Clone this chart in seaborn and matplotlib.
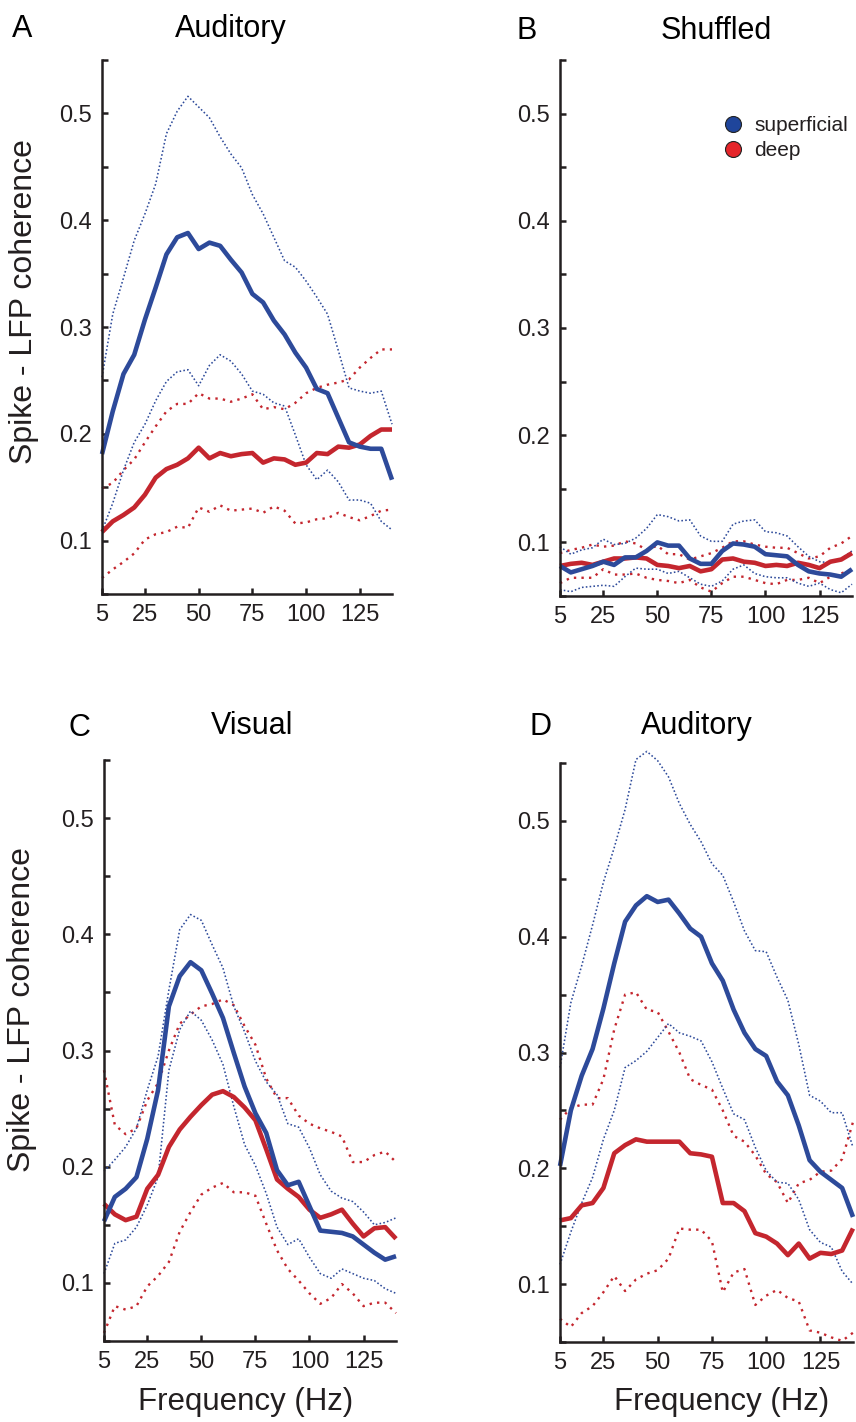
import numpy as np
import pandas as pd
import matplotlib
matplotlib.use("Agg")
import matplotlib.pyplot as plt
import seaborn as sns
from matplotlib.lines import Line2D

# ---------------- data ----------------
freq = [5, 10, 15, 20, 25, 30, 35, 40, 45, 50, 55, 60, 65, 70,
        75, 80, 85, 90, 95, 100, 105, 110, 115, 120, 125, 130, 135, 140]

# Panel A - Auditory
A_sup_mean = [0.181, 0.221, 0.256, 0.274, 0.307, 0.337, 0.368, 0.384, 0.388, 0.373, 0.379, 0.376, 0.363, 0.351,
              0.331, 0.323, 0.306, 0.293, 0.276, 0.262, 0.242, 0.238, 0.215, 0.192, 0.188, 0.186, 0.186, 0.157]
A_sup_hi = [0.253, 0.312, 0.346, 0.381, 0.406, 0.434, 0.481, 0.502, 0.516, 0.506, 0.496, 0.478, 0.462, 0.449,
            0.424, 0.406, 0.384, 0.362, 0.356, 0.343, 0.328, 0.312, 0.278, 0.243, 0.240, 0.238, 0.240, 0.209]
A_sup_lo = [0.109, 0.135, 0.166, 0.192, 0.209, 0.231, 0.249, 0.258, 0.260, 0.245, 0.264, 0.274, 0.268, 0.256,
            0.240, 0.237, 0.229, 0.226, 0.199, 0.171, 0.157, 0.166, 0.155, 0.138, 0.138, 0.135, 0.118, 0.110]
A_deep_mean = [0.108, 0.118, 0.124, 0.131, 0.143, 0.159, 0.167, 0.171, 0.177, 0.187, 0.177, 0.182, 0.179, 0.181,
               0.182, 0.173, 0.177, 0.176, 0.171, 0.173, 0.182, 0.181, 0.188, 0.187, 0.190, 0.198, 0.204, 0.204]
A_deep_hi = [0.149, 0.154, 0.166, 0.176, 0.192, 0.207, 0.221, 0.228, 0.228, 0.238, 0.233, 0.233, 0.230, 0.233,
             0.237, 0.223, 0.225, 0.223, 0.229, 0.238, 0.243, 0.246, 0.248, 0.251, 0.262, 0.271, 0.279, 0.279]
A_deep_lo = [0.065, 0.073, 0.080, 0.088, 0.101, 0.106, 0.108, 0.113, 0.112, 0.131, 0.127, 0.133, 0.128, 0.129,
             0.130, 0.126, 0.132, 0.128, 0.116, 0.117, 0.120, 0.121, 0.126, 0.122, 0.119, 0.123, 0.128, 0.129]

# Panel B - Shuffled
B_sup_mean = [0.078, 0.072, 0.075, 0.078, 0.082, 0.079, 0.086, 0.086, 0.092, 0.100, 0.097, 0.097, 0.085, 0.080,
              0.080, 0.092, 0.099, 0.098, 0.096, 0.089, 0.088, 0.087, 0.079, 0.073, 0.071, 0.070, 0.068, 0.075]
B_sup_hi = [0.096, 0.089, 0.093, 0.095, 0.103, 0.098, 0.099, 0.104, 0.113, 0.126, 0.124, 0.120, 0.121, 0.106,
            0.101, 0.101, 0.117, 0.120, 0.121, 0.110, 0.109, 0.106, 0.096, 0.087, 0.082, 0.081, 0.085, 0.092]
B_sup_lo = [0.056, 0.054, 0.058, 0.059, 0.060, 0.059, 0.068, 0.076, 0.075, 0.075, 0.071, 0.073, 0.067, 0.061,
            0.059, 0.064, 0.075, 0.079, 0.071, 0.068, 0.067, 0.067, 0.062, 0.059, 0.062, 0.056, 0.053, 0.061]
B_deep_mean = [0.078, 0.080, 0.081, 0.079, 0.082, 0.085, 0.085, 0.086, 0.085, 0.079, 0.078, 0.076, 0.078, 0.073,
               0.075, 0.084, 0.085, 0.082, 0.081, 0.078, 0.079, 0.078, 0.081, 0.079, 0.076, 0.082, 0.084, 0.090]
B_deep_hi = [0.090, 0.093, 0.095, 0.098, 0.096, 0.097, 0.101, 0.099, 0.093, 0.097, 0.089, 0.089, 0.084, 0.087,
             0.090, 0.095, 0.101, 0.101, 0.098, 0.096, 0.095, 0.095, 0.090, 0.085, 0.087, 0.095, 0.099, 0.106]
B_deep_lo = [0.062, 0.067, 0.067, 0.067, 0.075, 0.070, 0.070, 0.071, 0.067, 0.065, 0.064, 0.062, 0.065, 0.058,
             0.054, 0.062, 0.068, 0.068, 0.065, 0.062, 0.061, 0.065, 0.065, 0.067, 0.062, 0.068, 0.071, 0.075]

# Panel C - Visual
C_sup_mean = [0.153, 0.174, 0.181, 0.191, 0.224, 0.266, 0.338, 0.364, 0.376, 0.369, 0.349, 0.328, 0.298, 0.269,
              0.246, 0.229, 0.197, 0.184, 0.187, 0.166, 0.145, 0.144, 0.143, 0.140, 0.133, 0.126, 0.120, 0.123]
C_sup_hi = [0.196, 0.206, 0.217, 0.233, 0.266, 0.295, 0.352, 0.404, 0.417, 0.412, 0.391, 0.371, 0.338, 0.316,
            0.291, 0.273, 0.262, 0.237, 0.234, 0.216, 0.193, 0.179, 0.173, 0.170, 0.161, 0.150, 0.152, 0.156]
C_sup_lo = [0.108, 0.134, 0.137, 0.148, 0.167, 0.191, 0.283, 0.318, 0.334, 0.326, 0.309, 0.288, 0.252, 0.219,
            0.201, 0.177, 0.148, 0.133, 0.138, 0.122, 0.108, 0.104, 0.112, 0.108, 0.104, 0.102, 0.095, 0.091]
C_deep_mean = [0.168, 0.159, 0.154, 0.157, 0.181, 0.193, 0.217, 0.232, 0.243, 0.253, 0.262, 0.265, 0.260, 0.251,
               0.240, 0.215, 0.189, 0.181, 0.174, 0.163, 0.156, 0.159, 0.163, 0.151, 0.140, 0.147, 0.148, 0.138]
C_deep_hi = [0.283, 0.236, 0.228, 0.233, 0.257, 0.272, 0.300, 0.323, 0.331, 0.338, 0.340, 0.344, 0.339, 0.321,
             0.305, 0.276, 0.259, 0.259, 0.244, 0.237, 0.233, 0.230, 0.226, 0.204, 0.204, 0.210, 0.213, 0.204]
C_deep_lo = [0.057, 0.080, 0.077, 0.080, 0.097, 0.106, 0.118, 0.144, 0.161, 0.176, 0.182, 0.186, 0.178, 0.178,
             0.175, 0.151, 0.128, 0.112, 0.102, 0.091, 0.082, 0.087, 0.099, 0.091, 0.080, 0.083, 0.083, 0.074]

# Panel D - Auditory
D_sup_mean = [0.202, 0.250, 0.280, 0.303, 0.338, 0.377, 0.413, 0.427, 0.435, 0.430, 0.432, 0.420, 0.407, 0.400,
              0.377, 0.362, 0.337, 0.317, 0.303, 0.297, 0.275, 0.263, 0.237, 0.207, 0.197, 0.190, 0.183, 0.158]
D_sup_hi = [0.287, 0.343, 0.375, 0.410, 0.447, 0.477, 0.510, 0.553, 0.560, 0.552, 0.538, 0.515, 0.497, 0.482,
            0.463, 0.453, 0.430, 0.405, 0.388, 0.387, 0.365, 0.345, 0.307, 0.263, 0.258, 0.248, 0.248, 0.218]
D_sup_lo = [0.117, 0.145, 0.170, 0.192, 0.225, 0.250, 0.287, 0.293, 0.301, 0.313, 0.325, 0.317, 0.314, 0.310,
            0.292, 0.269, 0.247, 0.242, 0.218, 0.198, 0.188, 0.187, 0.173, 0.147, 0.136, 0.132, 0.111, 0.100]
D_deep_mean = [0.155, 0.157, 0.168, 0.170, 0.183, 0.213, 0.220, 0.225, 0.223, 0.223, 0.223, 0.223, 0.213, 0.212,
               0.210, 0.170, 0.170, 0.163, 0.144, 0.141, 0.135, 0.125, 0.135, 0.122, 0.127, 0.126, 0.129, 0.148]
D_deep_hi = [0.242, 0.252, 0.255, 0.255, 0.277, 0.320, 0.350, 0.352, 0.337, 0.335, 0.318, 0.300, 0.277, 0.272,
             0.268, 0.250, 0.228, 0.223, 0.211, 0.195, 0.188, 0.170, 0.187, 0.190, 0.197, 0.198, 0.208, 0.240]
D_deep_lo = [0.070, 0.063, 0.075, 0.081, 0.093, 0.107, 0.094, 0.104, 0.109, 0.112, 0.122, 0.148, 0.147, 0.147,
             0.137, 0.093, 0.110, 0.113, 0.082, 0.090, 0.095, 0.088, 0.085, 0.060, 0.058, 0.054, 0.051, 0.058]

panel_titles = ["Auditory", "Shuffled", "Visual", "Auditory"]
panel_letters = ["A", "B", "C", "D"]
x_ticks = [5, 25, 50, 75, 100, 125]
y_ticks = [0.05, 0.10, 0.15, 0.20, 0.25, 0.30, 0.35, 0.40, 0.45, 0.50, 0.55]
y_ticklabels = ["", "0.1", "", "0.2", "", "0.3", "", "0.4", "", "0.5", ""]
legend_labels = ["superficial", "deep"]
y_label = "Spike - LFP coherence"
x_label = "Frequency (Hz)"

# ---------------- style ----------------
sns.set_theme(style="white")
plt.rcParams["font.family"] = ["Liberation Sans", "DejaVu Sans"]

BLUE = "#2D4A9A"
RED = "#C4262E"
INK = "#231F20"

W, H = 856, 1422
fig = plt.figure(figsize=(W / 100, H / 100), dpi=100)


def px_axes(l, t, r, b):
    return fig.add_axes([l / W, 1 - b / H, (r - l) / W, (b - t) / H])


rects = [(102, 60, 392, 594), (560, 60, 852, 596), (104, 760, 396, 1341), (560, 763, 853, 1342)]
datasets = [
    (A_sup_mean, A_sup_hi, A_sup_lo, A_deep_mean, A_deep_hi, A_deep_lo),
    (B_sup_mean, B_sup_hi, B_sup_lo, B_deep_mean, B_deep_hi, B_deep_lo),
    (C_sup_mean, C_sup_hi, C_sup_lo, C_deep_mean, C_deep_hi, C_deep_lo),
    (D_sup_mean, D_sup_hi, D_sup_lo, D_deep_mean, D_deep_hi, D_deep_lo),
]

dot_blue = dict(color=BLUE, linewidth=1.15, linestyle=(0, (1, 1.4)))
dot_red = dict(color=RED, linewidth=1.7, linestyle=(0, (1, 2.2)))
solid_blue = dict(color=BLUE, linewidth=3.3, solid_joinstyle="round", solid_capstyle="butt")
solid_red = dict(color=RED, linewidth=3.3, solid_joinstyle="round", solid_capstyle="butt")

for rect, data in zip(rects, datasets):
    ax = px_axes(*rect)
    smean, shi, slo, dmean, dhi, dlo = data
    for vals, st in [(dhi, dot_red), (dlo, dot_red), (shi, dot_blue), (slo, dot_blue),
                     (dmean, solid_red), (smean, solid_blue)]:
        df = pd.DataFrame({"freq": freq, "coh": vals})
        sns.lineplot(data=df, x="freq", y="coh", ax=ax, clip_on=False, legend=False, **st)
    ax.set_xlim(5, 140)
    ax.set_ylim(0.05, 0.55)
    ax.set_xticks(x_ticks)
    ax.set_xticklabels([str(t) for t in x_ticks])
    ax.set_yticks(y_ticks)
    ax.set_yticklabels(y_ticklabels)
    ax.set_xlabel("")
    ax.set_ylabel("")
    for s in ["top", "right"]:
        ax.spines[s].set_visible(False)
    for s in ["left", "bottom"]:
        ax.spines[s].set_linewidth(1.8)
        ax.spines[s].set_color(INK)
    ax.tick_params(direction="in", length=4.5, width=1.8, color=INK, labelsize=17,
                   labelcolor=INK, pad=7, left=True, bottom=True)
    ax.set_facecolor("none")

# titles and panel letters
TFS = 22
fig.text(12 / W, 1 - 37 / H, "A", fontsize=TFS, ha="left", va="baseline", color="black")
fig.text(231 / W, 1 - 37 / H, panel_titles[0], fontsize=TFS, ha="center", va="baseline", color="black")
fig.text(527 / W, 1 - 39 / H, "B", fontsize=TFS, ha="center", va="baseline", color="black")
fig.text(716 / W, 1 - 39 / H, panel_titles[1], fontsize=TFS, ha="center", va="baseline", color="black")
fig.text(79 / W, 1 - 736 / H, "C", fontsize=TFS, ha="center", va="baseline", color="black")
fig.text(252 / W, 1 - 734 / H, panel_titles[2], fontsize=TFS, ha="center", va="baseline", color="black")
fig.text(540 / W, 1 - 735 / H, "D", fontsize=TFS, ha="center", va="baseline", color="black")
fig.text(697 / W, 1 - 734 / H, panel_titles[3], fontsize=TFS, ha="center", va="baseline", color="black")

# axis labels
fig.text(24 / W, 1 - 302 / H, y_label, fontsize=23, rotation=90, ha="center", va="center", color=INK)
fig.text(22 / W, 1 - 1010 / H, y_label, fontsize=23, rotation=90, ha="center", va="center", color=INK)
fig.text(246 / W, 1 - 1402 / H, x_label, fontsize=22.5, ha="center", va="center", color=INK)
fig.text(722 / W, 1 - 1402 / H, x_label, fontsize=22.5, ha="center", va="center", color=INK)

# legend
handles = [
    Line2D([], [], marker="o", linestyle="", markersize=11.5, markerfacecolor="#1F459B",
           markeredgecolor="#222222", markeredgewidth=0.8),
    Line2D([], [], marker="o", linestyle="", markersize=11.5, markerfacecolor="#E5252A",
           markeredgecolor="#222222", markeredgewidth=0.8),
]
fig.legend(handles, legend_labels, loc="upper left", bbox_to_anchor=(725 / W, 1 - 116 / H),
           frameon=False, fontsize=15, handlelength=0.75, handletextpad=0.65, labelspacing=0.3,
           borderpad=0, borderaxespad=0, labelcolor=INK)

fig.savefig("out.png", dpi=100, facecolor="white")
